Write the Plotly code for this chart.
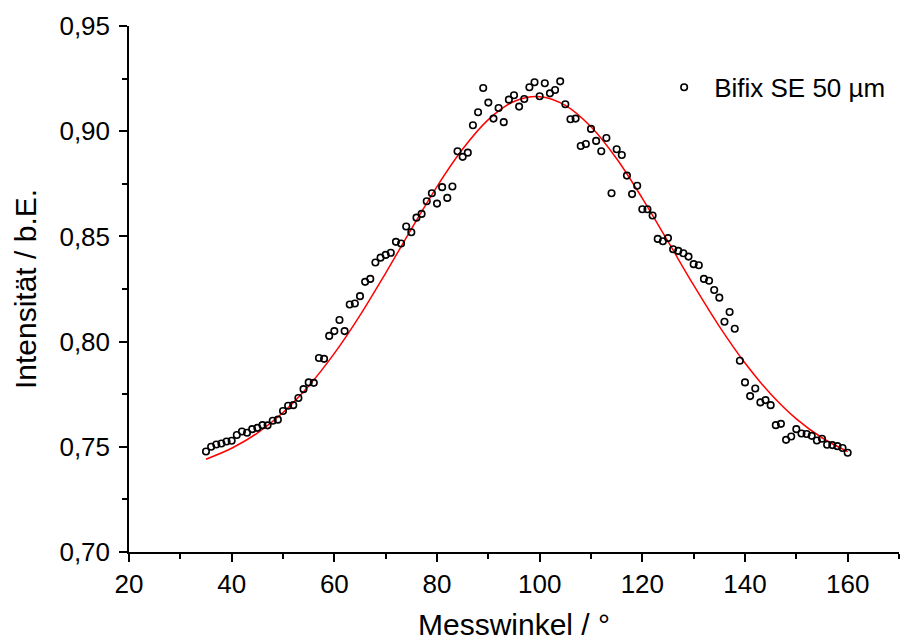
import plotly.graph_objects as go

# Measured data: angle (deg) and intensity (a.u.)
angles = list(range(35, 161))
intensity = [
    0.7478, 0.7500, 0.7511, 0.7516, 0.7525, 0.7529, 0.7556, 0.7573, 0.7567, 0.7584,  # 35-44
    0.7590, 0.7603, 0.7602, 0.7624, 0.7629, 0.7670, 0.7695, 0.7698, 0.7732, 0.7774,  # 45-54
    0.7806, 0.7804, 0.7922, 0.7918, 0.8027, 0.8050, 0.8103, 0.8050, 0.8176, 0.8181,  # 55-64
    0.8216, 0.8284, 0.8298, 0.8376, 0.8399, 0.8412, 0.8422, 0.8474, 0.8466, 0.8547,  # 65-74
    0.8520, 0.8589, 0.8607, 0.8667, 0.8705, 0.8656, 0.8734, 0.8683, 0.8737, 0.8905,  # 75-84
    0.8878, 0.8898, 0.9028, 0.9090, 0.9205, 0.9136, 0.9060, 0.9110, 0.9043, 0.9150,  # 85-94
    0.9171, 0.9117, 0.9153, 0.9209, 0.9233, 0.9166, 0.9228, 0.9180, 0.9196, 0.9237,  # 95-104
    0.9128, 0.9057, 0.9060, 0.8930, 0.8939, 0.9011, 0.8954, 0.8905, 0.8968, 0.8705,  # 105-114
    0.8914, 0.8887, 0.8789, 0.8701, 0.8741, 0.8629, 0.8629, 0.8599, 0.8488, 0.8477,  # 115-124
    0.8492, 0.8439, 0.8431, 0.8420, 0.8404, 0.8368, 0.8363, 0.8298, 0.8289, 0.8245,  # 125-134
    0.8209, 0.8094, 0.8141, 0.8061, 0.7909, 0.7806, 0.7741, 0.7777, 0.7711, 0.7722,  # 135-144
    0.7698, 0.7603, 0.7609, 0.7533, 0.7549, 0.7584, 0.7563, 0.7561, 0.7552, 0.7530,  # 145-154
    0.7538, 0.7510, 0.7508, 0.7503, 0.7494, 0.7472,                                  # 155-160
]

# Fit curve, every 5 degrees
fit_angles = [35, 40, 45, 50, 55, 60, 65, 70, 75, 80, 85, 90, 95,
              100, 105, 110, 115, 120, 125, 130, 135, 140, 145, 150, 155, 160]
fit_values = [0.7441, 0.7493, 0.7565, 0.7663, 0.7789, 0.7944, 0.8125, 0.8326, 0.8535,
              0.8737, 0.8915, 0.9055, 0.9141, 0.9164, 0.9123, 0.9021, 0.8869, 0.8681,
              0.8476, 0.8268, 0.8072, 0.7898, 0.7751, 0.7633, 0.7543, 0.7477]

y_ticks = [0.70, 0.75, 0.80, 0.85, 0.90, 0.95]
x_ticks = [20, 40, 60, 80, 100, 120, 140, 160]

assert len(angles) == len(intensity)

FONT = "Liberation Sans, Arial, sans-serif"

fig = go.Figure()
fig.add_trace(go.Scatter(
    x=fit_angles, y=fit_values, mode="lines", line=dict(color="#ff0000", width=1.5, shape="spline"),
    showlegend=False, hoverinfo="skip",
))
fig.add_trace(go.Scatter(
    x=angles, y=intensity, mode="markers", name="Bifix SE 50 µm",
    marker=dict(symbol="circle-open", size=6.5, color="black", line=dict(width=1.6, color="black")),
))

fig.update_layout(
    width=911, height=641,
    margin=dict(l=129, r=12, t=26, b=89),
    paper_bgcolor="white", plot_bgcolor="white",
    font=dict(family=FONT, color="black"),
    separators=",.",
    legend=dict(x=0.682, y=0.928, xanchor="left", yanchor="top", bgcolor="rgba(0,0,0,0)",
                font=dict(size=26, family=FONT), itemwidth=50),
)
fig.update_xaxes(
    range=[20, 170], tickvals=x_ticks, showline=True, linecolor="black", linewidth=1.5,
    ticks="outside", ticklen=8, tickwidth=1.5, tickcolor="black", automargin=False,
    minor=dict(ticks="outside", ticklen=5, tickwidth=1.5, tickcolor="black", dtick=10, tick0=20),
    showgrid=False, zeroline=False, tickfont=dict(size=26),
    title=dict(text="Messwinkel / °", font=dict(size=30), standoff=16),
)
fig.update_yaxes(
    range=[0.70, 0.95], tickvals=y_ticks, tickformat=".2f", showline=True, linecolor="black", linewidth=1.5,
    ticks="outside", ticklen=8, tickwidth=1.5, tickcolor="black", ticklabelstandoff=4, automargin=False,
    minor=dict(ticks="outside", ticklen=5, tickwidth=1.5, tickcolor="black", dtick=0.025, tick0=0.70),
    showgrid=False, zeroline=False, tickfont=dict(size=26),
    title=dict(text="Intensität / b.E.", font=dict(size=30), standoff=14),
)

fig.write_html("out.html")
